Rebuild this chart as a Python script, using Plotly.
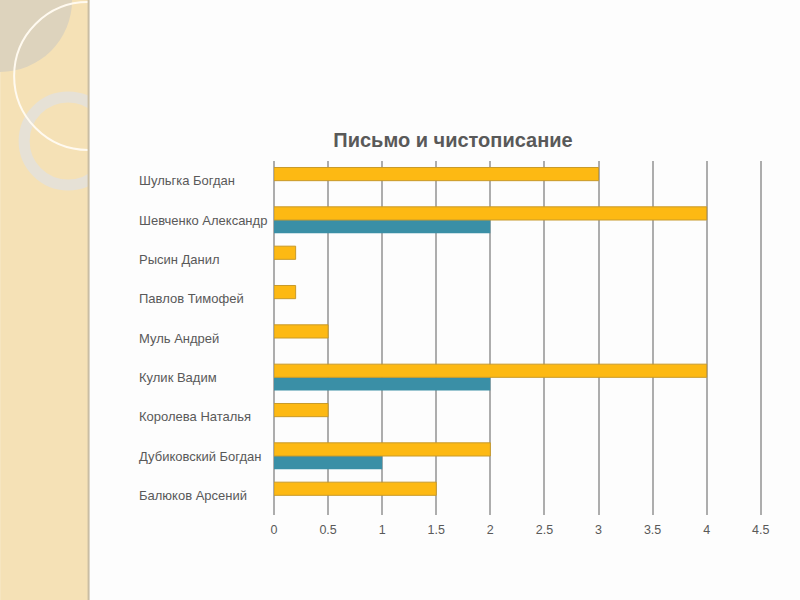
import plotly.graph_objects as go

# pupils, listed bottom -> top as on the chart
names = ['Балюков Арсений', 'Дубиковский Богдан', 'Королева Наталья', 'Кулик Вадим',
         'Муль Андрей', 'Павлов Тимофей', 'Рысин Данил', 'Шевченко Александр', 'Шульгка Богдан']
yellow_vals = [1.5, 2, 0.5, 4, 0.5, 0.2, 0.2, 4, 3]
teal_vals = [0, 1, 0, 2, 0, 0, 0, 2, 0]
x_ticks = [0, 0.5, 1, 1.5, 2, 2.5, 3, 3.5, 4, 4.5]
title_text = 'Письмо и чистописание'

# plot area in pixels (800x600 page); x range runs a bit past 4.5 so its gridline shows
X_MAX = 4.53
L, T, B = 274, 161, 515
R = L + X_MAX * (761 - 274) / 4.5


def px(x):
    return (x - L) / (R - L)


def py(y):
    return (B - y) / (B - T)


fig = go.Figure()
fig.add_trace(go.Bar(y=names, x=teal_vals, orientation='h', name='teal',
                     marker=dict(color='#3a8fa6', line=dict(width=0))))
fig.add_trace(go.Bar(y=names, x=yellow_vals, orientation='h', name='yellow',
                     marker=dict(color='#fdb913', line=dict(color='#c89a2a', width=1))))

shapes = []
# slide background: beige strip on the left with decorative circles
shapes.append(dict(type='rect', xref='paper', yref='paper', layer='below',
                   x0=px(0), x1=px(88), y0=py(600), y1=py(0),
                   fillcolor='#f5e1b6', line_width=0))
shapes.append(dict(type='circle', xref='paper', yref='paper', layer='below',
                   x0=px(-72), x1=px(72), y0=py(72), y1=py(-72),
                   fillcolor='#ddd3bd', line_width=0))
shapes.append(dict(type='circle', xref='paper', yref='paper', layer='below',
                   x0=px(68 - 44), x1=px(68 + 44), y0=py(141 + 44), y1=py(141 - 44),
                   fillcolor='rgba(0,0,0,0)', line=dict(color='#e6e1d6', width=11)))
shapes.append(dict(type='circle', xref='paper', yref='paper', layer='below',
                   x0=px(88 - 74), x1=px(88 + 74), y0=py(76 + 74), y1=py(76 - 74),
                   fillcolor='rgba(0,0,0,0)', line=dict(color='#fffaf0', width=2)))
# white slide body covers the circles to the right of the strip
shapes.append(dict(type='rect', xref='paper', yref='paper', layer='below',
                   x0=px(88), x1=px(800), y0=py(600), y1=py(0),
                   fillcolor='#fdfdfd', line_width=0))
shapes.append(dict(type='line', xref='paper', yref='paper', layer='below',
                   x0=px(88.5), x1=px(88.5), y0=py(600), y1=py(0),
                   line=dict(color='#c9bda3', width=2)))

annotations = []
for n in names:
    annotations.append(dict(text=n, xref='paper', yref='y', x=px(137), y=n,
                            xanchor='left', yanchor='middle', showarrow=False,
                            font=dict(size=13, color='#595959')))

fig.update_layout(
    width=800, height=600,
    barmode='group', bargap=0.33, bargroupgap=0,
    showlegend=False,
    paper_bgcolor='#fdfdfd', plot_bgcolor='rgba(0,0,0,0)',
    margin=dict(l=L, r=800 - R, t=T, b=600 - B),
    font=dict(family='Liberation Sans, Arial, sans-serif', color='#595959'),
    title=dict(text='<b>' + title_text + '</b>', x=453 / 800, xanchor='center',
               y=1 - 140 / 600, yanchor='middle',
               font=dict(size=20, color='#595959')),
    xaxis=dict(range=[0, X_MAX], tickvals=x_ticks, ticktext=[str(t) for t in x_ticks],
               showgrid=True, gridcolor='#adadad', gridwidth=1.5,
               zeroline=True, zerolinecolor='#adadad', zerolinewidth=1.5,
               showline=False, ticks='', ticklabelstandoff=5,
               tickfont=dict(size=12.5, color='#595959')),
    yaxis=dict(showticklabels=False, showgrid=False, zeroline=False, showline=False,
               categoryorder='array', categoryarray=names),
    shapes=shapes,
    annotations=annotations,
)

# drop the page's default body margin so the figure sits at 0,0
fig.write_html('out.html', config={'displayModeBar': False},
               post_script="document.body.style.margin='0';")
